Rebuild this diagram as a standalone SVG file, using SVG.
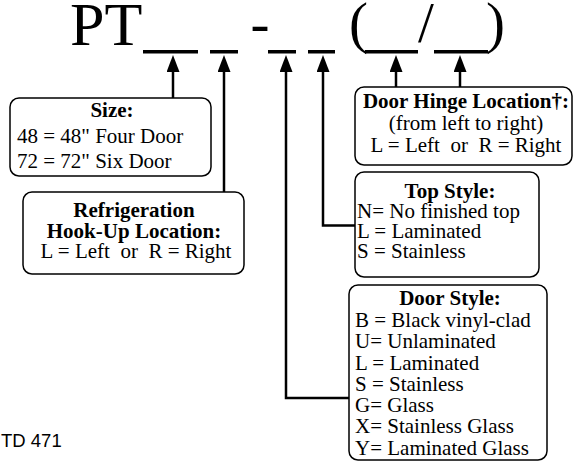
<svg xmlns="http://www.w3.org/2000/svg" width="579" height="461" viewBox="0 0 579 461">
<style>
.box{fill:#fff;stroke:#000;stroke-width:1.5}
.t{font-family:"Liberation Serif","Times New Roman",serif;font-size:21px;fill:#000}
.b{font-weight:bold}
.c{text-anchor:middle}
.big{font-family:"Liberation Serif","Times New Roman",serif;font-size:57px;fill:#000}
.conn{fill:none;stroke:#000;stroke-width:2.5}
.ul{fill:#000}
</style>
<defs>
<marker id="ah" viewBox="0 0 17 13" refX="10" refY="6.5" markerWidth="17" markerHeight="13" orient="auto" markerUnits="userSpaceOnUse">
<path d="M0,0 L17,6.5 L0,13 z" fill="#000"/>
</marker>
</defs>
<rect width="579" height="461" fill="#fff"/>
<g id="code">
<text class="big" x="70" y="45" style="font-size:62px">PT</text>
<text class="big" x="250.5" y="42">-</text>
<text class="big" x="349" y="42">(</text>
<text class="big" x="418" y="42">/</text>
<text class="big" x="486" y="42">)</text>
<rect class="ul" x="143" y="50" width="55" height="3.5"/>
<rect class="ul" x="210" y="50" width="28" height="3.5"/>
<rect class="ul" x="268" y="50" width="28" height="3.5"/>
<rect class="ul" x="308" y="50" width="27" height="3.5"/>
<rect class="ul" x="365" y="50" width="53" height="3.5"/>
<rect class="ul" x="434" y="50" width="54" height="3.5"/>
</g>
<g id="connectors">
<path class="conn" d="M173,98 V62" marker-end="url(#ah)"/>
<path class="conn" d="M224,192 V62" marker-end="url(#ah)"/>
<path class="conn" d="M349,398 H286 V62" marker-end="url(#ah)"/>
<path class="conn" d="M355,225.5 H323 V62" marker-end="url(#ah)"/>
<path class="conn" d="M396,87 V62" marker-end="url(#ah)"/>
<path class="conn" d="M460,87 V62" marker-end="url(#ah)"/>
</g>
<g id="size">
<rect class="box" x="10" y="98" width="201" height="78" rx="9"/>
<text class="t b c" x="112" y="117">Size:</text>
<text class="t" x="17" y="143">48 = 48" Four Door</text>
<text class="t" x="17" y="168">72 = 72" Six Door</text>
</g>
<g id="refrigeration">
<rect class="box" x="23" y="192" width="221" height="82" rx="9"/>
<text class="t b c" x="134" y="217">Refrigeration</text>
<text class="t b c" x="134" y="238">Hook-Up Location:</text>
<text class="t c" x="136" y="258">L = Left&#160; or&#160; R = Right</text>
</g>
<g id="door-hinge">
<rect class="box" x="355" y="87" width="217" height="78" rx="9"/>
<text class="t b c" x="466" y="108">Door Hinge Location†:</text>
<text class="t c" x="466" y="130">(from left to right)</text>
<text class="t c" x="466" y="151.5">L = Left&#160; or&#160; R = Right</text>
</g>
<g id="top-style">
<rect class="box" x="355" y="172" width="184" height="105" rx="9"/>
<text class="t b c" x="450" y="198">Top Style:</text>
<text class="t" x="357" y="218">N= No finished top</text>
<text class="t" x="357" y="238">L = Laminated</text>
<text class="t" x="357" y="258">S = Stainless</text>
</g>
<g id="door-style">
<rect class="box" x="349" y="285" width="198" height="175" rx="9"/>
<text class="t b c" x="450" y="305">Door Style:</text>
<text class="t" x="355" y="326.5">B = Black vinyl-clad</text>
<text class="t" x="355" y="348">U= Unlaminated</text>
<text class="t" x="355" y="369.5">L = Laminated</text>
<text class="t" x="355" y="390.5">S = Stainless</text>
<text class="t" x="355" y="411.5">G= Glass</text>
<text class="t" x="355" y="433">X= Stainless Glass</text>
<text class="t" x="355" y="454.5">Y= Laminated Glass</text>
</g>
<text x="1" y="446.5" font-family="'Liberation Sans',Arial,sans-serif" font-size="18.5px" fill="#000">TD 471</text>
</svg>
